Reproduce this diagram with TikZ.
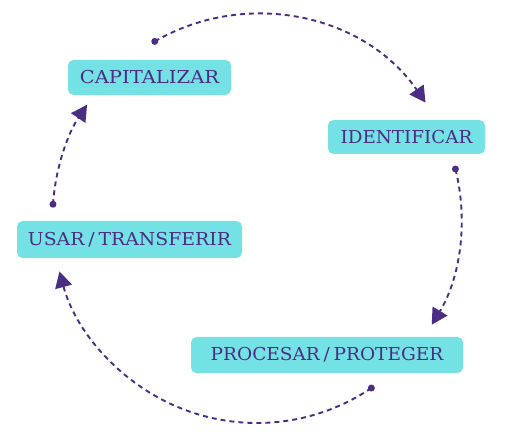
\documentclass[tikz,border=0pt]{standalone}
\usepackage{fontspec}
\setmainfont{DejaVu Serif}
\usetikzlibrary{arrows.meta,calc}
\definecolor{vio}{HTML}{4B2E83}
\definecolor{cyanbox}{HTML}{74E2E4}
\newcommand{\slashsep}{\hspace{3.6pt}/\hspace{3.6pt}}
\begin{document}
\begin{tikzpicture}[x=1pt,y=1pt,
  stepbox/.style={fill=cyanbox, rounded corners=5.5pt, text=vio, inner sep=0pt,
    font=\fontsize{17.8}{20}\selectfont},
  flow/.style={draw=vio, line width=1.9pt, dash pattern=on 5pt off 4pt,
    -{Triangle[length=16pt,width=17pt]}},
  dot/.style={fill=vio}]
\useasboundingbox (0,0) rectangle (506,438);
\node[stepbox, minimum width=163pt, minimum height=35pt] (cap) at (149.5,360.5) {\scalebox{1.1}[1]{CAPITALIZAR}};
\node[stepbox, minimum width=157pt, minimum height=34pt] (ide) at (406.5,301) {\scalebox{1.03}[1]{IDENTIFICAR}};
\node[stepbox, minimum width=225pt, minimum height=37pt] (usa) at (129.5,198.5) {\scalebox{1.06}[1]{USAR\slashsep TRANSFERIR}};
\node[stepbox, minimum width=272pt, minimum height=36pt] (pro) at (327,83) {\scalebox{1.04}[1]{PROCESAR\slashsep PROTEGER}};
\coordinate (o) at (257,219.5);
\coordinate (s1) at ($(o)+(120:204.5)$);
\coordinate (s2) at ($(o)+(14:204.5)$);
\coordinate (s3) at ($(o)+(-56:204.5)$);
\coordinate (s4) at ($(o)+(176:204.5)$);
\foreach \s in {s1,s2,s3,s4} \fill[dot] (\s) circle (3.5pt);
\draw[flow] (s1) arc[start angle=120, end angle=34.5, radius=204.5pt];
\draw[flow] (s2) arc[start angle=14, end angle=-31.3, radius=204.5pt];
\draw[flow] (s3) arc[start angle=-56, end angle=-165, radius=204.5pt];
\draw[flow] (s4) arc[start angle=176, end angle=146.2, radius=204.5pt];
\end{tikzpicture}
\end{document}
